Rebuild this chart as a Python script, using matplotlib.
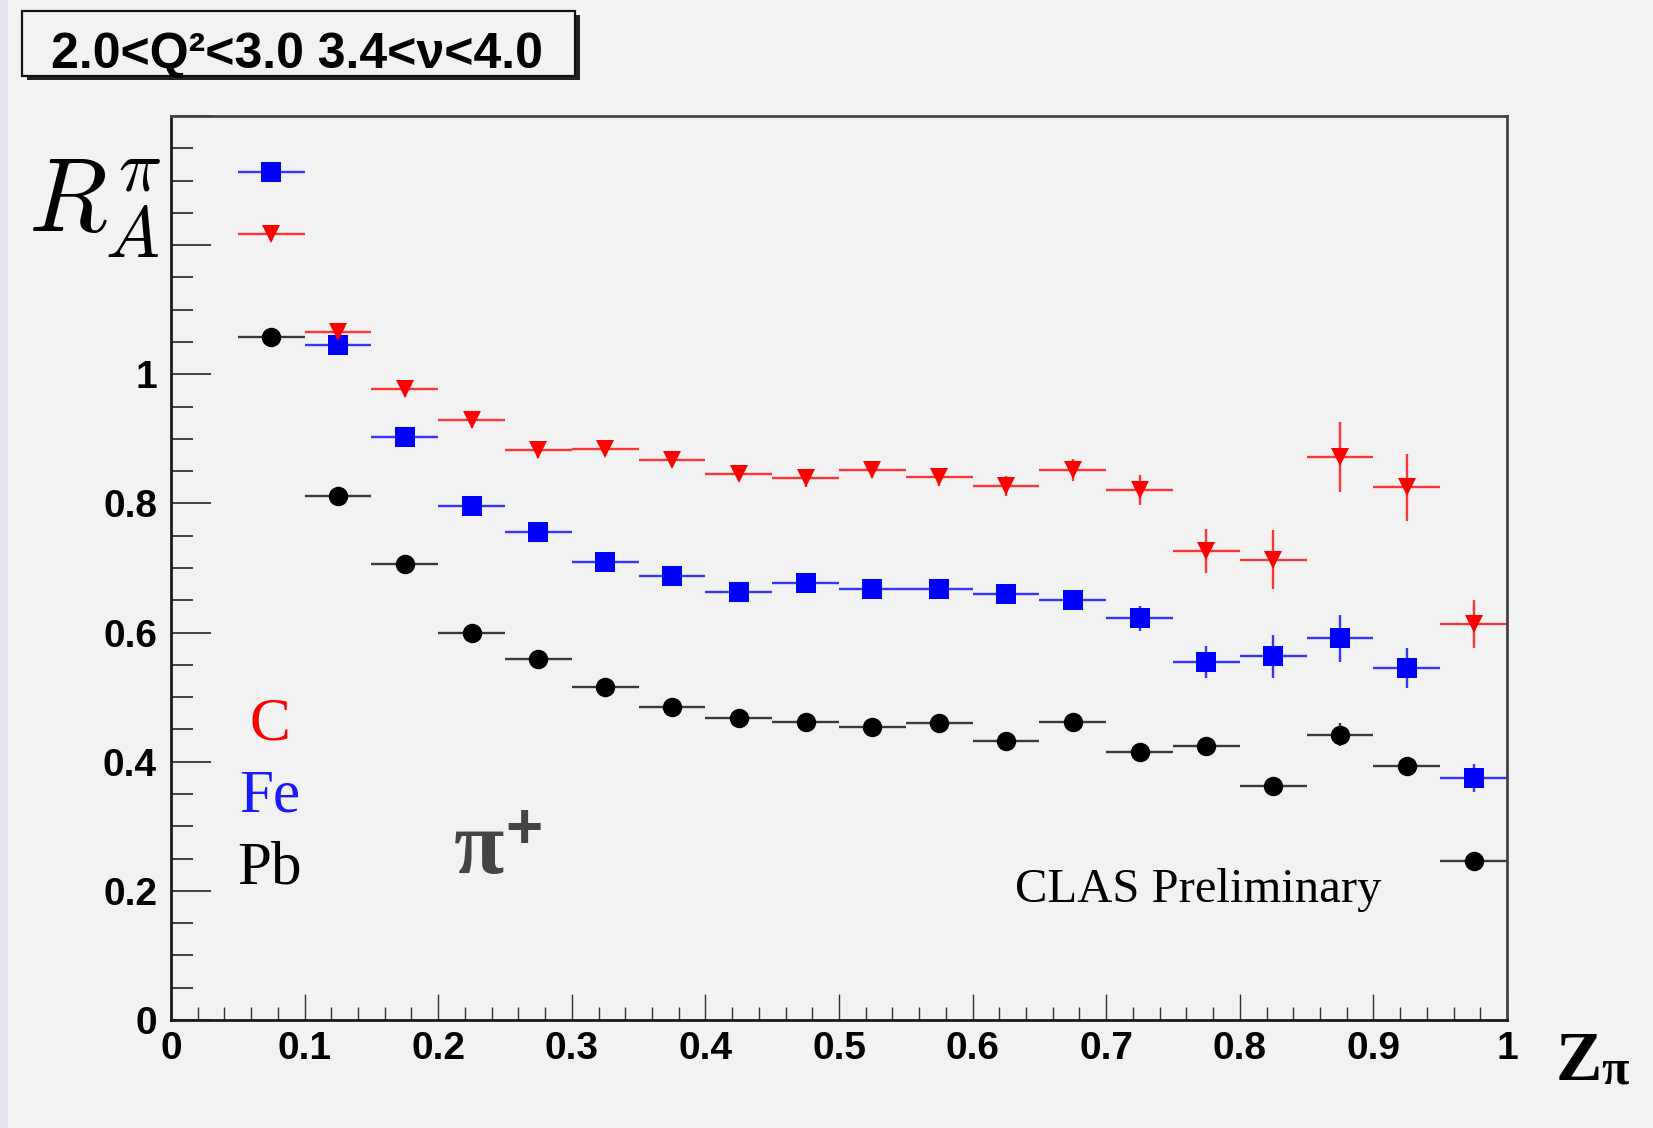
import numpy as np
import matplotlib
matplotlib.use("Agg")
import matplotlib.pyplot as plt
from matplotlib.patches import Rectangle
from matplotlib.ticker import MultipleLocator

# z bins (width 0.05) and nuclear ratios R_A for pi+
z_centres = [0.075, 0.125, 0.175, 0.225, 0.275, 0.325, 0.375, 0.425, 0.475, 0.525,
             0.575, 0.625, 0.675, 0.725, 0.775, 0.825, 0.875, 0.925, 0.975]
bin_half = 0.025

r_carbon = [1.218, 1.066, 0.977, 0.929, 0.883, 0.885, 0.868, 0.846, 0.839, 0.852,
            0.841, 0.827, 0.852, 0.821, 0.727, 0.713, 0.872, 0.825, 0.613]
err_carbon = [0.012, 0.012, 0.012, 0.012, 0.012, 0.012, 0.012, 0.012, 0.013, 0.013,
              0.014, 0.016, 0.017, 0.023, 0.034, 0.046, 0.054, 0.052, 0.037]

r_iron = [1.313, 1.045, 0.903, 0.796, 0.755, 0.710, 0.688, 0.663, 0.677, 0.667,
          0.668, 0.659, 0.651, 0.622, 0.554, 0.563, 0.591, 0.545, 0.375]
err_iron = [0.008, 0.008, 0.008, 0.008, 0.008, 0.009, 0.009, 0.010, 0.010, 0.011,
            0.012, 0.013, 0.014, 0.019, 0.025, 0.034, 0.036, 0.031, 0.022]

r_lead = [1.057, 0.812, 0.706, 0.600, 0.559, 0.516, 0.485, 0.468, 0.462, 0.453,
          0.460, 0.432, 0.462, 0.415, 0.424, 0.363, 0.442, 0.393, 0.246]
err_lead = [0.006, 0.006, 0.006, 0.006, 0.006, 0.006, 0.006, 0.007, 0.007, 0.007,
            0.008, 0.008, 0.010, 0.010, 0.011, 0.012, 0.018, 0.013, 0.012]

y_ticks = [0, 0.2, 0.4, 0.6, 0.8, 1.0, 1.2, 1.4]
y_ticklabels = ["0", "0.2", "0.4", "0.6", "0.8", "1", "", ""]
x_ticks = [0, 0.1, 0.2, 0.3, 0.4, 0.5, 0.6, 0.7, 0.8, 0.9, 1.0]
x_ticklabels = ["0", "0.1", "0.2", "0.3", "0.4", "0.5", "0.6", "0.7", "0.8", "0.9", "1"]

W, H = 1653, 1128
BG = "#f2f2f2"


def fpos(x, y):
    # pixel position (from top-left) -> figure fraction
    return x / W, 1 - y / H


fig = plt.figure(figsize=(W / 100, H / 100), dpi=100, facecolor=BG)
ax = fig.add_axes([171 / W, 1 - 1020 / H, (1507 - 171) / W, (1020 - 116) / H])
ax.set_facecolor(BG)

series = [
    (r_lead, err_lead, "o", "black", "#3a3a3a", 14),
    (r_iron, err_iron, "s", "#0000ff", "#3535ff", 14),
    (r_carbon, err_carbon, "v", "#ff0000", "#ff3535", 13.5),
]
for vals, errs, mk, col, ecol, ms in series:
    ax.errorbar(z_centres, vals, xerr=bin_half, yerr=errs, fmt=mk, color=col,
                ecolor=ecol, ms=ms, mew=0, elinewidth=1.7, capsize=0, clip_on=False)

ax.set_xlim(0, 1)
ax.set_ylim(0, 1.4)
ax.set_xticks(x_ticks)
ax.set_xticklabels(x_ticklabels)
ax.set_yticks(y_ticks)
ax.set_yticklabels(y_ticklabels)
ax.xaxis.set_minor_locator(MultipleLocator(0.02))
ax.yaxis.set_minor_locator(MultipleLocator(0.05))

for lab in ax.get_xticklabels() + ax.get_yticklabels():
    lab.set_fontfamily("Liberation Sans")
    lab.set_fontweight("bold")
    lab.set_fontsize(28)

ax.tick_params(axis="both", which="both", direction="in", top=False, right=False,
               color="#333333")
ax.tick_params(axis="y", which="major", length=29, width=1.3, pad=10)
ax.tick_params(axis="y", which="minor", length=16, width=1.3)
ax.tick_params(axis="x", which="major", length=19, width=1.0, pad=8)
ax.tick_params(axis="x", which="minor", length=9.5, width=1.0)

for side in ["left", "bottom"]:
    ax.spines[side].set_linewidth(2.0)
    ax.spines[side].set_color("#1a1a1a")
for side in ["top", "right"]:
    ax.spines[side].set_linewidth(2.0)
    ax.spines[side].set_color("#444444")

# axis titles
fig.text(*fpos(28, 232), r"$R_A^{\pi}$", fontsize=74, math_fontfamily="cm",
         ha="left", va="baseline")
fig.text(*fpos(1556, 1080), "Z", fontsize=50, family="Liberation Serif",
         fontweight="bold", ha="left", va="baseline")
fig.text(*fpos(1601, 1084), "π", fontsize=36, family="Liberation Serif",
         fontweight="bold", ha="left", va="baseline")

# nucleus labels
fig.text(*fpos(270, 740), "C", fontsize=44, family="Liberation Serif",
         color="#ff0000", ha="center", va="baseline")
fig.text(*fpos(270, 812), "Fe", fontsize=44, family="Liberation Serif",
         color="#1a1aff", ha="center", va="baseline")
fig.text(*fpos(270, 883), "Pb", fontsize=44, family="Liberation Serif",
         color="black", ha="center", va="baseline")

# pion charge
fig.text(*fpos(454, 873), "π", fontsize=66, family="Liberation Serif",
         fontweight="bold", color="#444444", ha="left", va="baseline")
fig.text(*fpos(524, 831), "+", fontsize=46, family="Liberation Sans",
         fontweight="bold", color="#444444", ha="center", va="center")

fig.text(*fpos(1015, 902), "CLAS Preliminary", fontsize=35,
         family="Liberation Serif", ha="left", va="baseline")

# kinematic bin box with drop shadow
x0, y0, x1, y1 = 22, 11, 575, 76
shadow = Rectangle(fpos(x0 + 5, y1 + 4), (x1 - x0) / W, (y1 - y0) / H,
                   transform=fig.transFigure, facecolor="#222222", edgecolor="none")
box = Rectangle(fpos(x0, y1), (x1 - x0) / W, (y1 - y0) / H,
                transform=fig.transFigure, facecolor=BG, edgecolor="#111111",
                linewidth=1.6)
fig.patches.extend([shadow, box])
fig.text(*fpos(297, 68), "2.0<Q²<3.0 3.4<ν<4.0", fontsize=36,
         family="Liberation Sans", fontweight="bold", ha="center", va="baseline")

# thin frame strip at the left edge
fig.patches.append(Rectangle((0, 0), 8 / W, 1, transform=fig.transFigure,
                             facecolor="#e3e6ea", edgecolor="none"))

fig.savefig("out.png", dpi=100, facecolor=BG)
